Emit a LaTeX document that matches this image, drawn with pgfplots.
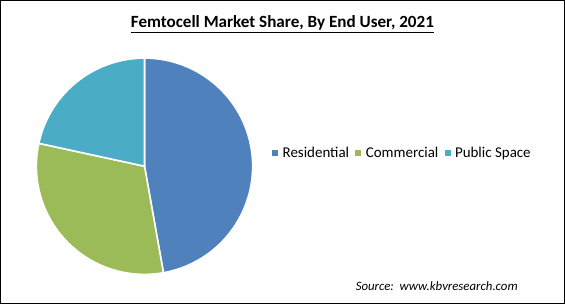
\documentclass[border=0pt]{standalone}
\usepackage{pgfplots}
\pgfplotsset{compat=1.18}
\usepackage{fontspec}
\setmainfont{Carlito}
\definecolor{resblue}{HTML}{4F81BD}
\definecolor{comgreen}{HTML}{9BBB59}
\definecolor{pubteal}{HTML}{4BACC6}
% shares in percent
\def\sRes{47.2}
\def\sCom{31.2}
\def\sPub{21.6}
\pgfmathsetmacro\aA{90-3.6*\sRes}
\pgfmathsetmacro\aB{\aA-3.6*\sCom}
\pgfmathsetmacro\aC{\aB-3.6*\sPub}
\def\cx{144.3}
\def\cy{138}
\def\R{108}
\begin{document}
\begin{tikzpicture}
\begin{axis}[
  width=423.75pt, height=228pt, scale only axis,
  xmin=0, xmax=565, ymin=0, ymax=304,
  axis lines=none, clip=false,
  legend style={at={(axis cs:271.7,150.8)}, anchor=west, draw=none, fill=none,
    legend columns=3, font=\fontsize{11.2pt}{13pt}\selectfont,
    nodes={inner sep=0pt},
    /tikz/every odd column/.append style={column sep=3.4pt},
    /tikz/every even column/.append style={column sep=4.6pt},
    inner sep=0pt, outer sep=0pt},
  legend image code/.code={\fill[#1, draw=none] (0pt,-2.1pt) rectangle (4.5pt,2.4pt);},
]
\addplot[fill=resblue, draw=white, line width=1.2pt, domain=\aA:90, samples=120, variable=\t]
  ({\cx+\R*cos(\t)}, {\cy+\R*sin(\t)}) -- (axis cs:\cx,\cy) -- cycle;
\addlegendentry{Residential}
\addplot[fill=comgreen, draw=white, line width=1.2pt, domain=\aB:\aA, samples=90, variable=\t]
  ({\cx+\R*cos(\t)}, {\cy+\R*sin(\t)}) -- (axis cs:\cx,\cy) -- cycle;
\addlegendentry{Commercial}
\addplot[fill=pubteal, draw=white, line width=1.2pt, domain=\aC:\aB, samples=70, variable=\t]
  ({\cx+\R*cos(\t)}, {\cy+\R*sin(\t)}) -- (axis cs:\cx,\cy) -- cycle;
\addlegendentry{Public Space}
\node[font=\fontsize{12.8pt}{15pt}\selectfont\bfseries] at (axis cs:282,280) {\underline{Femtocell Market Share, By End User, 2021}};
\node[font=\fontsize{9.6pt}{11pt}\selectfont\itshape, anchor=west, inner sep=0pt] at (axis cs:355,18.5) {Source:\ \ www.kbvresearch.com};
\draw[black, line width=1.1pt] (axis cs:0.7,0.7) rectangle (axis cs:563.5,303.3);
\end{axis}
\end{tikzpicture}
\end{document}
